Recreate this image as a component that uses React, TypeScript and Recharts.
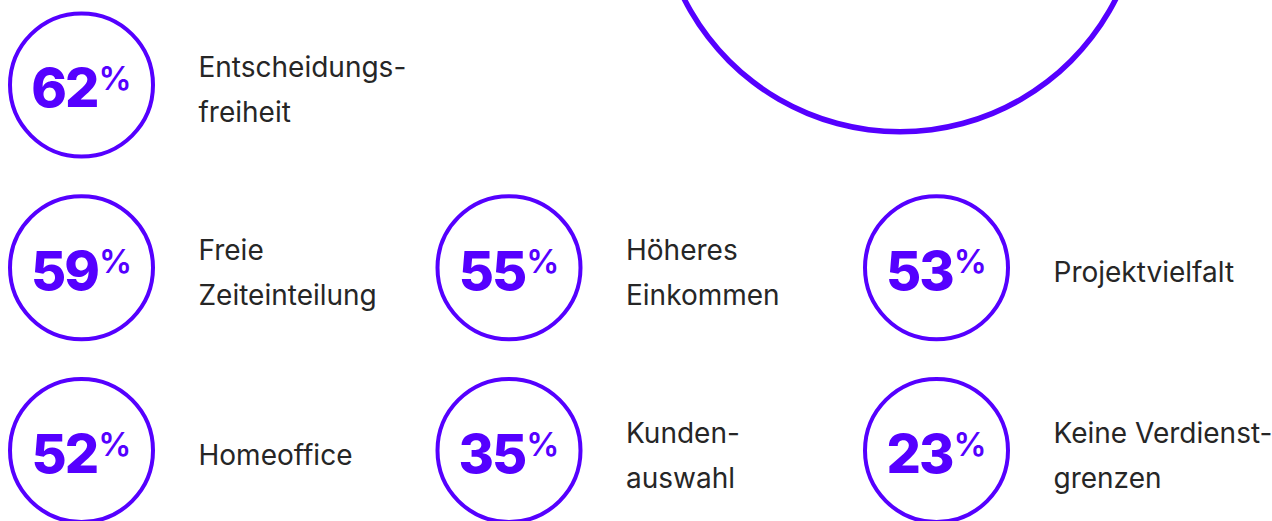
import { ScatterChart, Scatter, XAxis, YAxis, PieChart, Pie, Cell } from "recharts";

const STAT_VALUES = [62, 59, 55, 53, 52, 35, 23];
const STAT_LABELS = [
  ["Entscheidungs-", "freiheit"],
  ["Freie", "Zeiteinteilung"],
  ["Höheres", "Einkommen"],
  ["Projektvielfalt"],
  ["Homeoffice"],
  ["Kunden-", "auswahl"],
  ["Keine Verdienst-", "grenzen"],
];
const RING = [{ name: "ring", value: 1 }];

const PURPLE = "#5500ff";
const INK = "#262626";
const W = 1272;
const H = 521;

// first stat sits alone in the top row, the rest fill a 3-col grid below
const data = STAT_VALUES.map((value, i) => ({
  value,
  lines: STAT_LABELS[i],
  col: i === 0 ? 0 : (i - 1) % 3,
  row: i === 0 ? 0 : 1 + Math.floor((i - 1) / 3),
}));

function StatBubble(props: any) {
  const { cx, cy, payload } = props;
  const lines: string[] = payload.lines;
  const ys = lines.length === 1 ? [cy + 14] : [cy - 8, cy + 37];
  return (
    <g>
      <circle cx={cx} cy={cy} r={71.5} fill="none" stroke={PURPLE} strokeWidth={4} />
      <text
        x={cx}
        y={cy + 22}
        textAnchor="middle"
        fill={PURPLE}
        fontFamily="Inter, sans-serif"
        fontWeight={800}
        fontSize={54}
        letterSpacing={-2}
      >
        <tspan>{payload.value}</tspan>
        <tspan fontSize={33} fontWeight={600} letterSpacing={0} dx={1} dy={-17}>
          %
        </tspan>
      </text>
      {lines.map((t, k) => (
        <text
          key={k}
          x={cx + 117}
          y={ys[k]}
          fill={INK}
          fontFamily="Inter, sans-serif"
          fontSize={28}
        >
          {t}
        </text>
      ))}
    </g>
  );
}

export default function App() {
  return (
    <div style={{ position: "absolute", left: 0, top: 0, width: W, height: H, background: "#fff" }}>
      <div style={{ position: "absolute", left: 0, top: 0 }}>
        <PieChart width={W} height={H} margin={{ top: 0, right: 0, bottom: 0, left: 0 }}>
          <Pie
            data={RING}
            dataKey="value"
            cx={900}
            cy={-110}
            innerRadius={239}
            outerRadius={244.5}
            startAngle={0}
            endAngle={360}
            stroke="none"
            isAnimationActive={false}
          >
            {RING.map((r) => (
              <Cell key={r.name} fill={PURPLE} />
            ))}
          </Pie>
        </PieChart>
      </div>
      <div style={{ position: "absolute", left: 0, top: 0 }}>
        <ScatterChart width={W} height={H} margin={{ top: 85, right: 335.5, bottom: 70.5, left: 81.5 }}>
          <XAxis type="number" dataKey="col" domain={[0, 2]} hide />
          <YAxis type="number" dataKey="row" domain={[0, 2]} reversed hide />
          <Scatter data={data} shape={StatBubble} isAnimationActive={false} />
        </ScatterChart>
      </div>
    </div>
  );
}
